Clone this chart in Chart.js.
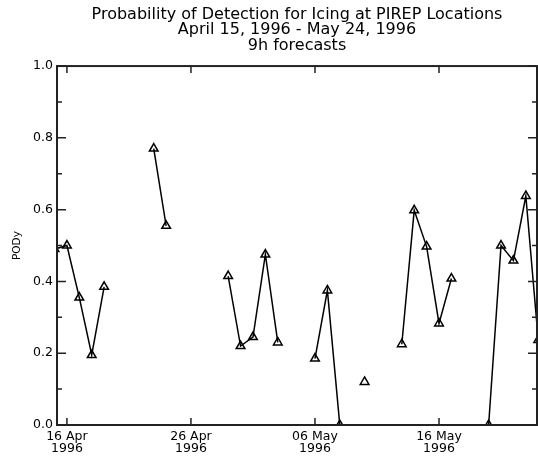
<!DOCTYPE html>
<html lang="en">
<head>
<meta charset="UTF-8">
<title>Probability of Detection for Icing at PIREP Locations</title>
<script src="https://cdn.jsdelivr.net/npm/chart.js"></script>
<style>
  html, body { margin: 0; padding: 0; background: #fff; }
  .wrap { width: 538px; height: 457px; }
</style>
</head>
<body>
<div class="wrap"><canvas id="podChart"></canvas></div>
<script>
  // daily PODy values, days without a value are left out (line breaks there)
  const dates = [
    '1996-04-15', '1996-04-16', '1996-04-17', '1996-04-18', '1996-04-19',
    '1996-04-23', '1996-04-24',
    '1996-04-29', '1996-04-30', '1996-05-01', '1996-05-02', '1996-05-03',
    '1996-05-06', '1996-05-07', '1996-05-08',
    '1996-05-10',
    '1996-05-13', '1996-05-14', '1996-05-15', '1996-05-16', '1996-05-17',
    '1996-05-20', '1996-05-21', '1996-05-22', '1996-05-23', '1996-05-24'
  ];
  const pody = [
    0.49, 0.50, 0.355, 0.195, 0.385,
    0.77, 0.555,
    0.415, 0.22, 0.245, 0.475, 0.23,
    0.185, 0.375, 0.0,
    0.12,
    0.225, 0.598, 0.497, 0.283, 0.408,
    0.0, 0.50, 0.458, 0.638, 0.237
  ];

  const xTickDates = ['1996-04-16', '1996-04-26', '1996-05-06', '1996-05-16'];
  const xTickLabels = [['16 Apr', '1996'], ['26 Apr', '1996'], ['06 May', '1996'], ['16 May', '1996']];
  const yTicks = [0, 0.2, 0.4, 0.6, 0.8, 1.0];
  const yTickLabels = ['0.0', '0.2', '0.4', '0.6', '0.8', '1.0'];
  const yMinorTicks = [0.1, 0.3, 0.5, 0.7, 0.9];

  const DAY = 86400000;
  const t0 = Date.UTC(1996, 3, 16);
  function dayOf(s) {
    const [y, m, d] = s.split('-').map(Number);
    return (Date.UTC(y, m - 1, d) - t0) / DAY;
  }

  const points = [];
  dates.forEach((d, i) => {
    const x = dayOf(d);
    if (i > 0 && x - dayOf(dates[i - 1]) > 1) points.push({ x: x - 0.5, y: null });
    points.push({ x: x, y: pody[i] });
  });

  // box around the plot with the ticks pointing inwards
  const frameTicks = {
    id: 'frameTicks',
    afterDatasetsDraw(chart) {
      const { ctx, chartArea: a, scales: { x, y } } = chart;
      ctx.save();
      ctx.strokeStyle = '#222';
      ctx.lineWidth = 2;
      ctx.strokeRect(a.left, a.top, a.right - a.left, a.bottom - a.top);
      ctx.lineWidth = 1.5;
      ctx.beginPath();
      x.ticks.forEach(t => {
        const px = x.getPixelForValue(t.value);
        ctx.moveTo(px, a.bottom); ctx.lineTo(px, a.bottom - 7);
        ctx.moveTo(px, a.top); ctx.lineTo(px, a.top + 7);
      });
      yTicks.forEach(v => {
        const py = y.getPixelForValue(v);
        ctx.moveTo(a.left, py); ctx.lineTo(a.left + 9, py);
        ctx.moveTo(a.right, py); ctx.lineTo(a.right - 9, py);
      });
      yMinorTicks.forEach(v => {
        const py = y.getPixelForValue(v);
        ctx.moveTo(a.left, py); ctx.lineTo(a.left + 5, py);
        ctx.moveTo(a.right, py); ctx.lineTo(a.right - 5, py);
      });
      ctx.stroke();
      ctx.restore();
    }
  };

  Chart.defaults.font.family = '"DejaVu Sans", sans-serif';
  Chart.defaults.color = '#000';

  new Chart(document.getElementById('podChart'), {
    type: 'line',
    data: {
      datasets: [{
        data: points,
        borderColor: '#000',
        borderWidth: 1.5,
        pointStyle: 'triangle',
        pointRadius: 5,
        pointBorderWidth: 1.5,
        pointBorderColor: '#000',
        pointBackgroundColor: 'rgba(0,0,0,0)',
        spanGaps: false,
        tension: 0,
        clip: 0
      }]
    },
    options: {
      responsive: true,
      maintainAspectRatio: false,
      animation: false,
      layout: { autoPadding: false, padding: { top: 0, right: 1, bottom: 0, left: 0 } },
      plugins: {
        legend: { display: false },
        tooltip: { enabled: false },
        title: {
          display: true,
          fullSize: false,
          text: ['Probability of Detection for Icing at PIREP Locations', 'April 15, 1996 - May 24, 1996', '9h forecasts'],
          color: '#000',
          font: { size: 16, weight: 'normal', lineHeight: 0.97 },
          padding: { top: 7, bottom: 12.5 }
        }
      },
      scales: {
        x: {
          type: 'linear',
          min: -0.8,
          max: 37.9,
          afterBuildTicks: s => { s.ticks = xTickDates.map(d => ({ value: dayOf(d) })); },
          afterFit: s => { s.height = 32; },
          grid: { display: false, drawTicks: false },
          border: { display: false },
          ticks: {
            padding: 6,
            maxRotation: 0,
            autoSkip: false,
            font: { size: 12.5, lineHeight: 0.96 },
            callback: (v, i) => xTickLabels[i]
          }
        },
        y: {
          min: 0,
          max: 1,
          afterBuildTicks: s => { s.ticks = yTicks.map(v => ({ value: v })); },
          afterFit: s => { s.width = 57; },
          grid: { display: false, drawTicks: false },
          border: { display: false },
          ticks: {
            padding: 4,
            font: { size: 12.5 },
            callback: (v, i) => yTickLabels[i]
          },
          title: {
            display: true,
            text: 'PODy',
            font: { size: 10.5 },
            padding: { top: 11, bottom: 0 }
          }
        }
      }
    },
    plugins: [frameTicks]
  });
</script>
</body>
</html>
